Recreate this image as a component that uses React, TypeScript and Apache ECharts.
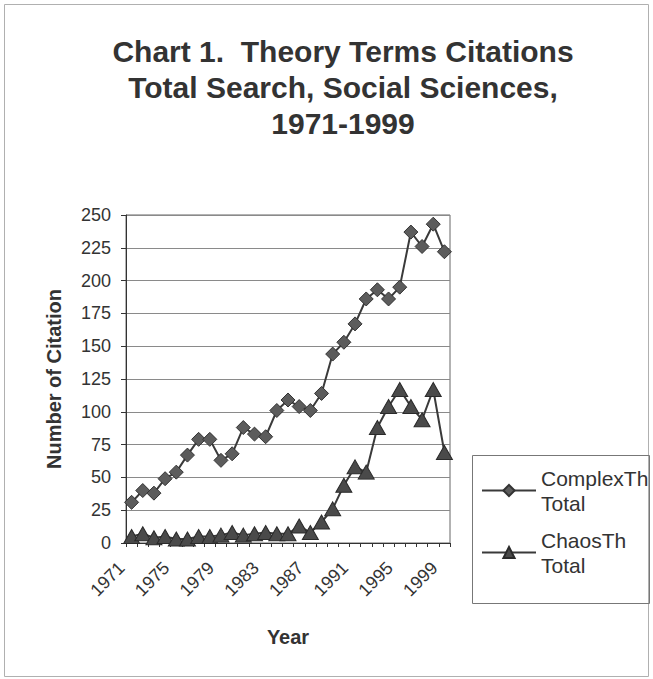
import React, { useEffect, useRef } from "react";
import * as echarts from "echarts";

const years = [
  "1971", "1972", "1973", "1974", "1975", "1976", "1977", "1978", "1979", "1980",
  "1981", "1982", "1983", "1984", "1985", "1986", "1987", "1988", "1989", "1990",
  "1991", "1992", "1993", "1994", "1995", "1996", "1997", "1998", "1999",
];
const complexTotal = [
  31, 40, 38, 49, 54, 67, 79, 79, 63, 68,
  88, 83, 81, 101, 109, 104, 101, 114, 144, 153,
  167, 186, 193, 186, 195, 237, 226, 243, 222,
];
const chaosTotal = [
  5, 7, 4, 5, 3, 3, 5, 5, 6, 8,
  6, 7, 8, 7, 7, 13, 8, 16, 26, 44,
  58, 54, 88, 104, 117, 104, 94, 117, 69,
];
const seriesNames = ["ComplexTh\nTotal", "ChaosTh\nTotal"];
const titleLines = [
  "Chart 1.  Theory Terms Citations",
  "Total Search, Social Sciences,",
  "1971-1999",
];

const FONT = "Liberation Sans, Arial, sans-serif";

export default function App() {
  const ref = useRef<HTMLDivElement>(null);
  useEffect(() => {
    if (!ref.current) return;
    const chart = echarts.init(ref.current, null, { renderer: "svg" });
    chart.setOption({
      animation: false,
      backgroundColor: "#ffffff",
      textStyle: { fontFamily: FONT },
      title: {
        text: titleLines.join("\n"),
        left: 338,
        top: 28,
        textAlign: "center",
        textStyle: {
          fontFamily: FONT,
          fontSize: 30,
          fontWeight: "bold",
          color: "#333333",
          lineHeight: 36,
        },
      },
      grid: {
        left: 126,
        right: 203,
        top: 215,
        bottom: 136,
        show: true,
        borderColor: "#666666",
        borderWidth: 1,
        containLabel: false,
      },
      legend: {
        orient: "vertical",
        left: 481,
        top: 453,
        padding: 0,
        itemWidth: 54,
        itemHeight: 14,
        itemGap: -13,
        data: seriesNames,
        textStyle: {
          fontFamily: FONT,
          fontSize: 21,
          color: "#333333",
          lineHeight: 25,
          padding: [25, 0, 0, 0],
        },
      },
      xAxis: {
        type: "category",
        data: years,
        boundaryGap: true,
        name: "Year",
        nameLocation: "middle",
        nameGap: 84,
        nameTextStyle: { fontFamily: FONT, fontSize: 20, fontWeight: "bold", color: "#333333" },
        axisLine: { lineStyle: { color: "#333333", width: 1 } },
        axisTick: { show: true, interval: 0, length: 4, lineStyle: { color: "#333333" } },
        axisLabel: {
          interval: 3,
          rotate: 45,
          fontFamily: FONT,
          fontSize: 18,
          color: "#333333",
          margin: 12,
          padding: [0, 14, 0, 0],
        },
        splitLine: { show: false },
      },
      yAxis: {
        type: "value",
        min: 0,
        max: 250,
        interval: 25,
        name: "Number of Citation",
        nameLocation: "middle",
        nameGap: 62,
        nameRotate: 90,
        nameTextStyle: { fontFamily: FONT, fontSize: 20, fontWeight: "bold", color: "#333333" },
        axisLine: { show: true, lineStyle: { color: "#333333", width: 1 } },
        axisTick: { show: true, length: 5, lineStyle: { color: "#333333" } },
        axisLabel: { fontFamily: FONT, fontSize: 18, color: "#333333", margin: 15 },
        splitLine: { show: true, lineStyle: { color: "#8a8a8a", width: 1 } },
      },
      series: [
        {
          name: seriesNames[0],
          type: "line",
          data: complexTotal,
          symbol: "diamond",
          symbolSize: [14, 14],
          showAllSymbol: true,
          lineStyle: { color: "#3a3a3a", width: 2 },
          itemStyle: { color: "#5c5c5c", borderColor: "#333333", borderWidth: 1 },
        },
        {
          name: seriesNames[1],
          type: "line",
          data: chaosTotal,
          symbol: "triangle",
          symbolSize: [16, 14],
          showAllSymbol: true,
          lineStyle: { color: "#3a3a3a", width: 2 },
          itemStyle: { color: "#4a4a4a", borderColor: "#2a2a2a", borderWidth: 1 },
        },
      ],
      graphic: [
        {
          type: "rect",
          shape: { x: 4.5, y: 4.5, width: 644, height: 672 },
          style: { fill: "none", stroke: "#b0b0b0", lineWidth: 1 },
          silent: true,
        },
        {
          type: "rect",
          shape: { x: 472.5, y: 455.5, width: 177, height: 148 },
          style: { fill: "none", stroke: "#777777", lineWidth: 1 },
          silent: true,
        },
      ],
    });
    return () => chart.dispose();
  }, []);
  return (
    <div
      ref={ref}
      style={{ position: "fixed", left: 0, top: 0, width: 653, height: 679 }}
    />
  );
}
